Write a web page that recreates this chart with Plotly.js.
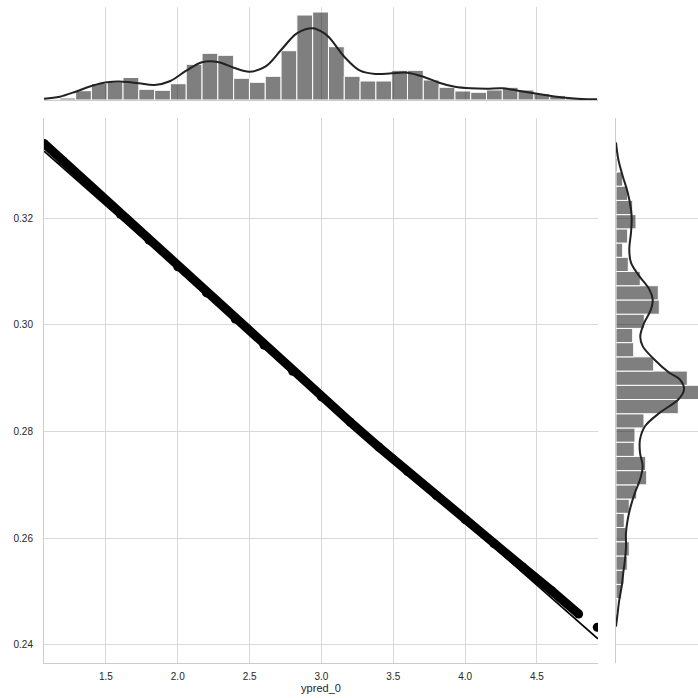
<!DOCTYPE html>
<html><head><meta charset="utf-8">
<script src="https://cdn.plot.ly/plotly-3.0.1.min.js"></script>
<style>html,body{margin:0;padding:0;background:#fff}#chart{width:698px;height:698px}</style>
</head><body><div id="chart"></div>
<script>
// Main scatter: dense band of points
const bandX = [1.07, 1.2, 1.4, 1.6, 1.8, 2.0, 2.2, 2.4, 2.6, 2.8, 3.0, 3.2, 3.4, 3.6, 3.8, 4.0, 4.2, 4.4, 4.6, 4.79];
const bandY = [0.3340, 0.3308, 0.3258, 0.3208, 0.3159, 0.3109, 0.3060, 0.3011, 0.2962, 0.2913, 0.2865, 0.2818, 0.2771, 0.2725, 0.2680, 0.2635, 0.2590, 0.2546, 0.2502, 0.2458];
const outlierX = [4.92];
const outlierY = [0.2433];
// Regression line end points
const regX = [1.069, 4.925];
const regY = [0.3326, 0.24113];

// Top marginal histogram (ypred_0)
const xBinStart = 1.069;
const xBinWidth = 0.11;
const topHist = [0.7, 2, 9.3, 16.5, 18, 22.5, 10.7, 9.7, 16.3, 35.7, 46.7, 44.7, 21.7, 17.7, 23.7, 49.3, 85, 88, 53.3, 23.7, 19, 19, 29.7, 29.7, 20, 12.7, 9, 7.7, 10, 12.7, 10, 6.3, 4.3, 2.3, 1];
const topKdeX = [1.069, 1.179, 1.289, 1.399, 1.509, 1.619, 1.729, 1.839, 1.949, 2.059, 2.169, 2.279, 2.389, 2.499, 2.609, 2.719, 2.829, 2.939, 2.989, 3.049, 3.159, 3.269, 3.379, 3.489, 3.599, 3.709, 3.819, 3.929, 4.039, 4.149, 4.259, 4.369, 4.479, 4.589, 4.699, 4.809, 4.919];
const topKdeY = [1.3, 3.3, 8.3, 14, 17.7, 18.3, 16.7, 15, 19, 29.3, 37.7, 38, 32.3, 28.3, 33.3, 50, 66.7, 71.7, 69.3, 63.3, 43.3, 29.3, 26, 26.7, 27.3, 23.3, 17.3, 13.3, 11.7, 11.3, 11.7, 9.3, 6.7, 4.3, 2.3, 1, 0.7];

// Right marginal histogram (bottom to top)
const yBinStart = 0.24334;
const yBinWidth = 0.002667;
const rightHist = [1, 1.3, 5.7, 8, 11.3, 13.3, 10, 8.3, 13.3, 20.7, 30.7, 29.7, 18.3, 19, 28, 62.3, 86, 71.3, 37.7, 17.7, 16.7, 28.3, 43.3, 42.3, 24.3, 12.3, 6.7, 11.7, 20, 16.7, 11.7, 6.7, 1.5, 1];
const rightKdeY = [0.33422, 0.33108, 0.32794, 0.32483, 0.32169, 0.31981, 0.31731, 0.31418, 0.31168, 0.30916, 0.30667, 0.30479, 0.30291, 0.30041, 0.29790, 0.29602, 0.29352, 0.29102, 0.28976, 0.28789, 0.28601, 0.28357, 0.28099, 0.27850, 0.27606, 0.27348, 0.27099, 0.26855, 0.26597, 0.26347, 0.26103, 0.25846, 0.25596, 0.25352, 0.25095, 0.24845, 0.24601, 0.24344];
const rightKdeX = [0, 2.3, 6.7, 11.7, 15, 15.7, 15, 13.3, 15, 23.3, 33.3, 36.7, 35, 28.3, 24.3, 26.7, 38.3, 53.3, 64, 68, 62.3, 44, 29, 24, 24, 26.7, 24, 19, 14.7, 11.7, 10, 10, 9, 7.3, 5.7, 3.3, 1.7, 0];

const xTickVals = [1.5, 2.0, 2.5, 3.0, 3.5, 4.0, 4.5];
const yTickVals = [0.24, 0.26, 0.28, 0.30, 0.32];
const xLabel = 'ypred_0';

const topCenters = topHist.map((_, i) => xBinStart + (i + 0.5) * xBinWidth);
const rightCenters = rightHist.map((_, i) => yBinStart + (i + 0.5) * yBinWidth);

const gridC = '#d9d9d9', spineC = '#cccccc', textC = '#262626';
const font = {family: 'Liberation Sans, Arial, sans-serif', size: 10, color: textC};

const traces = [
  {type: 'scatter', mode: 'lines+markers', x: bandX, y: bandY, xaxis: 'x', yaxis: 'y',
   line: {color: '#000000', width: 9}, marker: {color: '#000000', size: 9, line: {width: 0}}, hoverinfo: 'skip'},
  {type: 'scatter', mode: 'markers', x: outlierX, y: outlierY, xaxis: 'x', yaxis: 'y',
   marker: {color: '#000000', size: 9, line: {width: 0}}, hoverinfo: 'skip'},
  {type: 'scatter', mode: 'lines', x: regX, y: regY, xaxis: 'x', yaxis: 'y',
   line: {color: '#000000', width: 1.8}, hoverinfo: 'skip'},
  {type: 'bar', x: topCenters, y: topHist, width: xBinWidth, xaxis: 'x2', yaxis: 'y2',
   marker: {color: 'rgba(0,0,0,0.5)', line: {color: '#ffffff', width: 1}}, hoverinfo: 'skip'},
  {type: 'scatter', mode: 'lines', x: topKdeX, y: topKdeY, xaxis: 'x2', yaxis: 'y2',
   line: {color: '#222', width: 2, shape: 'spline'}, hoverinfo: 'skip'},
  {type: 'bar', orientation: 'h', y: rightCenters, x: rightHist, width: yBinWidth, xaxis: 'x3', yaxis: 'y3',
   marker: {color: 'rgba(0,0,0,0.5)', line: {color: '#ffffff', width: 1}}, hoverinfo: 'skip'},
  {type: 'scatter', mode: 'lines', x: rightKdeX, y: rightKdeY, xaxis: 'x3', yaxis: 'y3',
   line: {color: '#222', width: 2, shape: 'spline'}, hoverinfo: 'skip'}
];

const xDom = [0, 0.8471];
const layout = {
  width: 698, height: 698,
  margin: {l: 44, r: 0, t: 0, b: 35},
  paper_bgcolor: '#fff', plot_bgcolor: 'rgba(0,0,0,0)',
  showlegend: false, font: font, bargap: 0,
  xaxis: {domain: xDom, anchor: 'y', range: [1.069, 4.925], tickvals: xTickVals, tickformat: '.1f',
          showgrid: true, gridcolor: gridC, zeroline: false, showline: true, linecolor: spineC, linewidth: 1,
          ticks: '', ticklabelstandoff: 4, tickfont: font,
          title: {text: xLabel, font: {family: font.family, size: 11, color: textC}, standoff: 2}, automargin: false},
  yaxis: {domain: [0, 0.822], anchor: 'x', range: [0.2366, 0.3388], tickvals: yTickVals, tickformat: '.2f',
          showgrid: true, gridcolor: gridC, zeroline: false, showline: true, linecolor: spineC, linewidth: 1,
          ticks: '', ticklabelstandoff: 8, tickfont: font, automargin: false},
  xaxis2: {domain: xDom, anchor: 'y2', matches: 'x', range: [1.069, 4.925], tickvals: xTickVals,
           showticklabels: false, showgrid: true, gridcolor: gridC, zeroline: false,
           showline: true, linecolor: spineC, linewidth: 1, ticks: ''},
  yaxis2: {domain: [0.8492, 0.9894], anchor: 'x2', range: [0, 93], showticklabels: false,
           showgrid: false, zeroline: false, showline: false, ticks: ''},
  xaxis3: {domain: [0.8746, 1], anchor: 'y3', range: [0, 82], showticklabels: false,
           showgrid: false, zeroline: false, showline: false, ticks: ''},
  yaxis3: {domain: [0, 0.822], anchor: 'x3', matches: 'y', range: [0.2366, 0.3388], tickvals: yTickVals,
           showticklabels: false, showgrid: true, gridcolor: gridC, zeroline: false,
           showline: true, linecolor: spineC, linewidth: 1, ticks: ''}
};

Plotly.newPlot('chart', traces, layout, {staticPlot: true, displayModeBar: false});
</script>
</body></html>
